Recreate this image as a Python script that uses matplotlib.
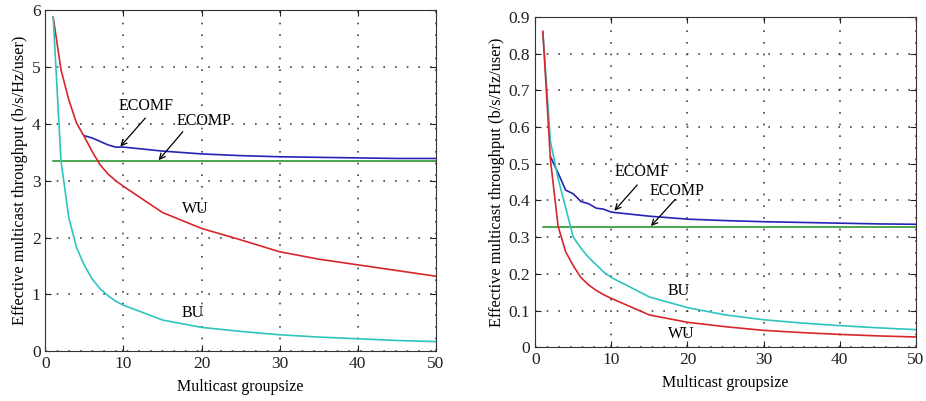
import numpy as np
import matplotlib
matplotlib.use("Agg")
import matplotlib.pyplot as plt

plt.rcParams['font.family'] = ['Liberation Serif', 'DejaVu Serif']

# left panel
groupsize_l = [1, 2, 3, 4, 5, 6, 7, 8, 9, 10, 15, 20, 25, 30, 35, 40, 45, 50]
wu_l = [5.88, 4.95, 4.42, 4.01, 3.77, 3.51, 3.28, 3.12, 3.0, 2.9,
        2.44, 2.16, 1.96, 1.75, 1.62, 1.52, 1.42, 1.32]
bu_l = [5.88, 3.35, 2.35, 1.82, 1.51, 1.27, 1.1, 0.98, 0.88, 0.81,
        0.55, 0.42, 0.35, 0.29, 0.25, 0.22, 0.19, 0.17]
ecomf_x_l = [5, 6, 7, 8, 9, 10, 15, 20, 25, 30, 35, 40, 45, 50]
ecomf_l = [3.79, 3.75, 3.69, 3.63, 3.59, 3.59, 3.52, 3.47, 3.44, 3.42,
           3.41, 3.40, 3.39, 3.39]
ecomp_l = 3.35

# right panel
groupsize_r = groupsize_l
wu_r = [0.86, 0.51, 0.33, 0.26, 0.222, 0.19, 0.17, 0.155, 0.143, 0.133,
        0.088, 0.068, 0.056, 0.046, 0.04, 0.035, 0.031, 0.028]
bu_r = [0.86, 0.56, 0.46, 0.38, 0.30, 0.27, 0.245, 0.225, 0.205, 0.19,
        0.137, 0.108, 0.088, 0.075, 0.066, 0.059, 0.053, 0.048]
ecomf_x_r = [2, 3, 4, 5, 6, 7, 8, 9, 10, 15, 20, 25, 30, 35, 40, 45, 50]
ecomf_r = [0.519, 0.475, 0.428, 0.418, 0.397, 0.391, 0.379, 0.376, 0.368,
           0.357, 0.349, 0.345, 0.342, 0.340, 0.338, 0.336, 0.335]
ecomp_r = 0.327

RED = '#d8262c'
CYAN = '#2ec4c0'
BLUE = '#2424b4'
GREEN = '#2f962f'
LW = 1.2


def style_axes(ax, ylim, yticks, ylabels):
    ax.set_xlim(0, 50)
    ax.set_ylim(*ylim)
    ax.set_xticks(range(0, 51, 10))
    ax.set_yticks(yticks)
    ax.set_yticklabels(ylabels)
    ax.tick_params(direction='in', top=True, right=True, length=4,
                   labelsize=12.5, colors='#222222')
    ax.grid(True, color='#444444', linestyle=(0, (1, 6)), linewidth=1.2)
    for s in ax.spines.values():
        s.set_linewidth(0.8)
        s.set_color('#333333')
    ax.set_xlabel('Multicast groupsize', fontsize=11.5, labelpad=5)
    ax.set_ylabel('Effective multicast throughput (b/s/Hz/user)',
                  fontsize=11.8, labelpad=3)


def note(ax, text, xy):
    ax.text(xy[0], xy[1], text, fontsize=11.5, ha='center', va='center')


def arrow(ax, start, end):
    ax.annotate('', xy=end, xytext=start,
                arrowprops=dict(arrowstyle='->', color='black', lw=0.9,
                                mutation_scale=10, shrinkA=0, shrinkB=0))


fig = plt.figure(figsize=(9.26, 4.01), dpi=100)

ax1 = fig.add_axes([0.049, 0.124, 0.4216, 0.851])
ax1.plot(ecomf_x_l, ecomf_l, color=BLUE, lw=LW)
ax1.plot([1, 50], [ecomp_l, ecomp_l], color=GREEN, lw=LW)
ax1.plot(groupsize_l, wu_l, color=RED, lw=LW)
ax1.plot(groupsize_l, bu_l, color=CYAN, lw=LW)
style_axes(ax1, (0, 6), range(0, 7), [str(v) for v in range(0, 7)])
note(ax1, 'ECOMF', (12.9, 4.31))
arrow(ax1, (12.8, 4.1), (9.6, 3.6))
note(ax1, 'ECOMP', (20.3, 4.05))
arrow(ax1, (17.6, 3.86), (14.5, 3.36))
note(ax1, 'WU', (19.2, 2.5))
note(ax1, 'BU', (18.9, 0.68))

ax2 = fig.add_axes([0.578, 0.134, 0.411, 0.824])
ax2.plot(ecomf_x_r, ecomf_r, color=BLUE, lw=LW)
ax2.plot([1, 50], [ecomp_r, ecomp_r], color=GREEN, lw=LW)
ax2.plot(groupsize_r, bu_r, color=CYAN, lw=LW)
ax2.plot(groupsize_r, wu_r, color=RED, lw=LW)
yt = [i / 10 for i in range(10)]
style_axes(ax2, (0, 0.9), yt, ['0'] + ['%.1f' % v for v in yt[1:]])
note(ax2, 'ECOMF', (14.1, 0.478))
arrow(ax2, (13.4, 0.442), (10.4, 0.372))
note(ax2, 'ECOMP', (18.6, 0.426))
arrow(ax2, (18.4, 0.403), (15.2, 0.330))
note(ax2, 'BU', (18.8, 0.153))
note(ax2, 'WU', (19.2, 0.036))

fig.savefig('out.png', dpi=100)
